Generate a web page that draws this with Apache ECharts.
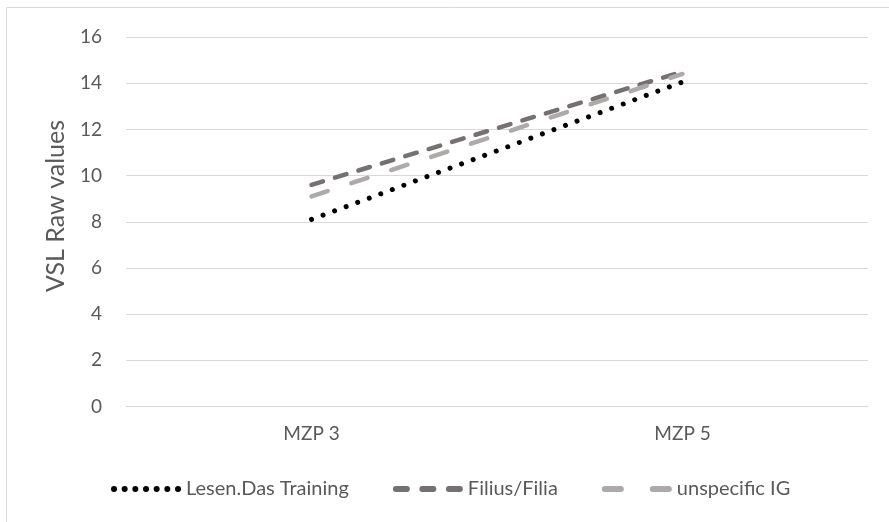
<!DOCTYPE html>
<html>
<head>
<meta charset="utf-8">
<script src="https://cdn.jsdelivr.net/npm/echarts@6/dist/echarts.min.js"></script>
<style>
  html, body { margin: 0; padding: 0; background: #ffffff; }
  #chart { width: 889px; height: 522px; }
</style>
</head>
<body>
<div id="chart"></div>
<script>
// Measurement points
const categories = ['MZP 3', 'MZP 5'];
// VSL raw values per group
const lesenTraining = [8.1, 14.05];
const filiusFilia = [9.6, 14.5];
const unspecificIG = [9.1, 14.4];
const seriesNames = ['Lesen.Das Training', 'Filius/Filia', 'unspecific IG'];
const yTitle = 'VSL Raw values';

const FONT = 'Lato, "Open Sans", sans-serif';
const TEXT = '#595959';
const GRID = '#d9d9d9';
const COLORS = ['#000000', '#767171', '#aeaaaa'];

// Legend icons drawn in a 70x6 box: dots, short dashes, long dashes
function dotsPath(n, w, r) {
  const step = (w - 2 * r) / (n - 1);
  let d = '';
  for (let i = 0; i < n; i++) {
    const cx = r + i * step;
    d += 'M' + (cx - r) + ' ' + r + ' a' + r + ' ' + r + ' 0 1 0 ' + (2 * r) + ' 0 a' + r + ' ' + r + ' 0 1 0 ' + (-2 * r) + ' 0 Z ';
  }
  return 'path://' + d;
}
function dashesPath(starts, len, r) {
  let d = '';
  starts.forEach(function (x0) {
    d += 'M' + (x0 + r) + ' 0 h' + (len - 2 * r) + ' a' + r + ' ' + r + ' 0 0 1 0 ' + (2 * r) +
         ' h' + (-(len - 2 * r)) + ' a' + r + ' ' + r + ' 0 0 1 0 ' + (-2 * r) + ' Z ';
  });
  return 'path://' + d;
}
const legendIcons = [
  dotsPath(7, 70, 3),
  dashesPath([0, 26.5, 53], 17, 3),
  dashesPath([0, 48], 22, 3)
];

const chart = echarts.init(document.getElementById('chart'), null, { renderer: 'canvas' });

chart.setOption({
  animation: false,
  backgroundColor: '#ffffff',
  textStyle: { fontFamily: FONT, color: TEXT },
  graphic: [
    {
      type: 'rect',
      shape: { x: 6.5, y: 7.5, width: 900, height: 540 },
      style: { fill: 'none', stroke: GRID, lineWidth: 1 },
      silent: true
    },
    {
      type: 'text',
      x: 56,
      y: 206,
      rotation: Math.PI / 2,
      style: {
        text: yTitle,
        fill: TEXT,
        font: '25px ' + FONT,
        align: 'center',
        verticalAlign: 'middle'
      },
      silent: true
    }
  ],
  grid: { left: 126, right: 21, top: 37, bottom: 115.5 },
  legend: {
    left: 106,
    top: 474,
    itemGap: 44,
    itemWidth: 70,
    itemHeight: 6,
    symbolKeepAspect: false,
    textStyle: { fontFamily: FONT, fontSize: 20, color: TEXT },
    data: seriesNames.map(function (name, i) {
      return { name: name, icon: legendIcons[i], itemStyle: { color: COLORS[i] } };
    })
  },
  xAxis: {
    type: 'category',
    data: categories,
    boundaryGap: true,
    axisLine: { lineStyle: { color: GRID, width: 1 } },
    axisTick: { show: false },
    axisLabel: { color: TEXT, fontSize: 19, fontFamily: FONT, margin: 18 }
  },
  yAxis: {
    type: 'value',
    min: 0,
    max: 16,
    interval: 2,
    axisLine: { show: false },
    axisTick: { show: false },
    axisLabel: { color: TEXT, fontSize: 19, fontFamily: FONT, margin: 24 },
    splitLine: { lineStyle: { color: GRID, width: 1 } }
  },
  series: [
    {
      name: seriesNames[0],
      type: 'line',
      data: lesenTraining,
      symbol: 'none',
      z: 3,
      lineStyle: { color: COLORS[0], width: 5, type: [0.01, 12.3], cap: 'round' },
      itemStyle: { color: COLORS[0] }
    },
    {
      name: seriesNames[1],
      type: 'line',
      data: filiusFilia,
      symbol: 'none',
      z: 2,
      lineStyle: { color: COLORS[1], width: 4.5, type: [12, 12.5], cap: 'round' },
      itemStyle: { color: COLORS[1] }
    },
    {
      name: seriesNames[2],
      type: 'line',
      data: unspecificIG,
      symbol: 'none',
      z: 2,
      lineStyle: { color: COLORS[2], width: 4.5, type: [17, 25], cap: 'round' },
      itemStyle: { color: COLORS[2] }
    }
  ]
});
</script>
</body>
</html>
